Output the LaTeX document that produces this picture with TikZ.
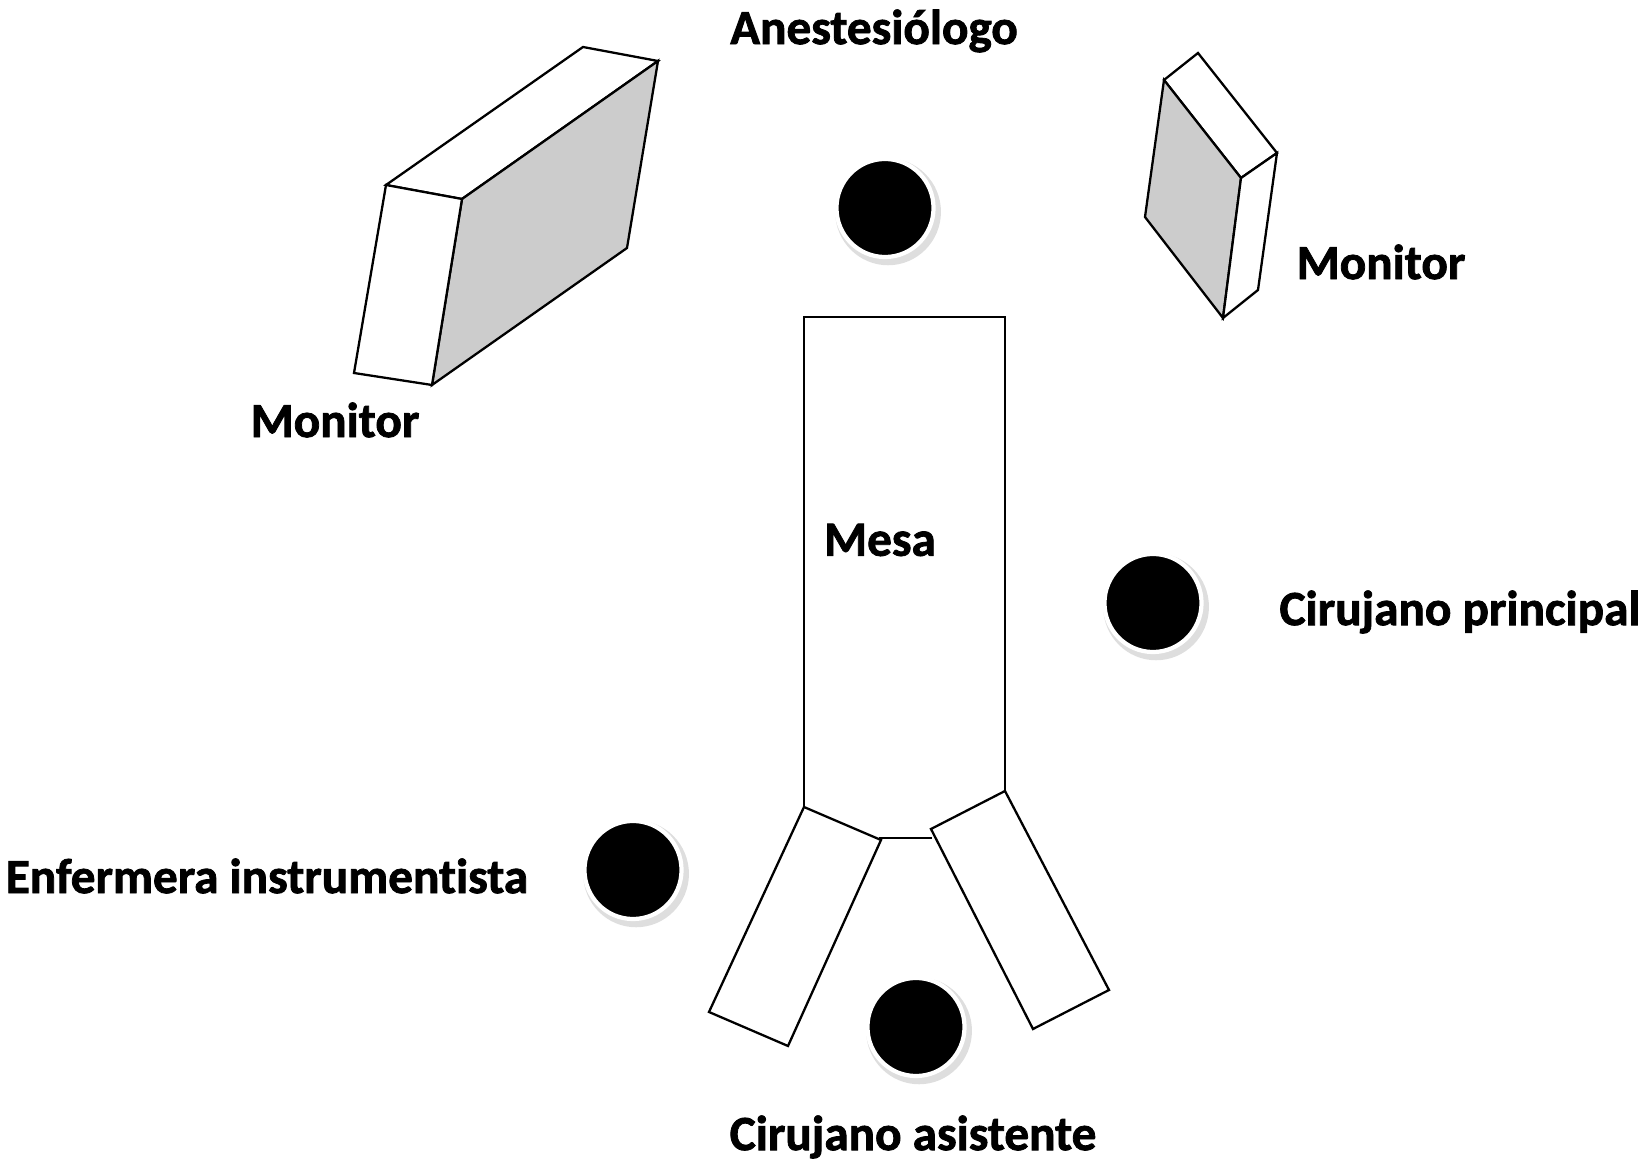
\documentclass[tikz,border=0pt]{standalone}
\usepackage{fontspec}
\setmainfont[Ligatures=NoCommon,BoldFeatures={FakeBold=1.6}]{Carlito}
\usetikzlibrary{shapes.geometric,shadows}
\definecolor{monitorgray}{RGB}{204,204,204}
\definecolor{shadowgray}{RGB}{222,222,222}
\tikzstyle{person} = [ellipse, minimum width=0.97cm, minimum height=0.98cm, inner sep=0pt, fill=black, draw=white, line width=1.2pt, drop shadow={shadow xshift=0.8pt, shadow yshift=-1pt, shadow scale=1.09, opacity=1, fill=shadowgray}]
\tikzstyle{outline} = [draw=black, line width=0.65pt, line join=miter]
\tikzstyle{tag} = [inner sep=0pt, font=\fontsize{14}{16}\selectfont\bfseries]
\begin{document}
\begin{tikzpicture}[x=0.01cm,y=-0.01cm]
\useasboundingbox (0,0) rectangle (1650,1167);

% Left monitor
\draw[outline, fill=white] (386,185) -- (583,47) -- (658,61) -- (462,199) -- cycle;
\draw[outline, fill=monitorgray] (462,199) -- (658,61) -- (627,248) -- (432,385) -- cycle;
\draw[outline, fill=white] (386,185) -- (462,199) -- (432,385) -- (354,373) -- cycle;

% Right monitor
\draw[outline, fill=white] (1164,80) -- (1198,53) -- (1277,153) -- (1241,178) -- cycle;
\draw[outline, fill=monitorgray] (1164,80) -- (1241,178) -- (1223,318) -- (1145,217) -- cycle;
\draw[outline, fill=white] (1241,178) -- (1277,153) -- (1258,290) -- (1223,318) -- cycle;

% Table
\draw[outline] (804,807) -- (804,317) -- (1005,317) -- (1005,791);
\draw[outline] (879,838) -- (932,838);

% Table legs
\draw[outline] (804,807) -- (881,840) -- (788,1046) -- (709,1012) -- cycle;
\draw[outline] (1005,791) -- (1109,990) -- (1033,1029) -- (931,829) -- cycle;

% People
\node[person] (anesthetist) at (885,208) {};
\node[person] (surgeon) at (1153,603) {};
\node[person] (nurse) at (633,870) {};
\node[person] (assistant) at (916,1027) {};

% Labels
\node[tag] (anesthetistlabel) at (874,31) {Anestesiólogo};
\node[tag] (leftmonitorlabel) at (335,420) {Monitor};
\node[tag] (rightmonitorlabel) at (1381,262) {Monitor};
\node[tag] (tablelabel) at (880,540) {Mesa};
\node[tag] (surgeonlabel) at (1460,612) {Cirujano principal};
\node[tag] (nurselabel) at (267,876) {Enfermera instrumentista};
\node[tag] (assistantlabel) at (913,1137) {Cirujano asistente};
\end{tikzpicture}
\end{document}
